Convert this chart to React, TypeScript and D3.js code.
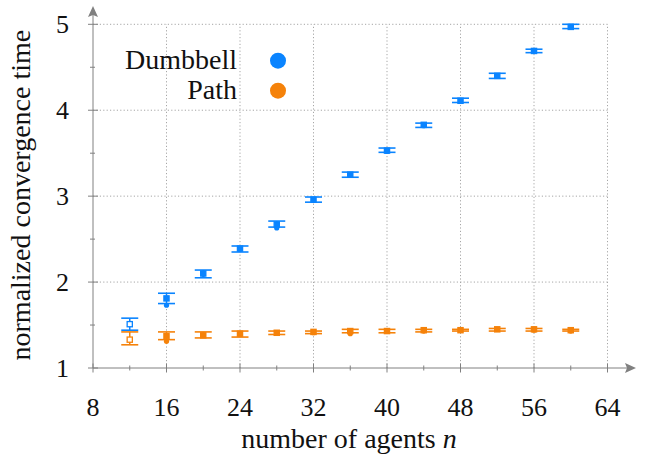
import React from "react";
import * as d3 from "d3";

// number of agents
const agents = [12, 16, 20, 24, 28, 32, 36, 40, 44, 48, 52, 56, 60];

// Dumbbell: mean, median, error bar low/high
const dumbbellMean = [1.51, 1.81, 2.1, 2.39, 2.67, 2.96, 3.25, 3.53, 3.83, 4.11, 4.4, 4.69, 4.97];
const dumbbellMedian = [1.51, 1.73, 2.09, 2.38, 2.63, 2.95, 3.25, 3.52, 3.82, 4.11, 4.4, 4.69, 4.97];
const dumbbellLow = [1.44, 1.75, 2.05, 2.35, 2.64, 2.93, 3.22, 3.51, 3.8, 4.09, 4.37, 4.67, 4.95];
const dumbbellHigh = [1.58, 1.87, 2.14, 2.42, 2.71, 2.99, 3.28, 3.56, 3.85, 4.14, 4.43, 4.71, 5.0];

// Path
const pathMean = [1.33, 1.37, 1.38, 1.4, 1.41, 1.42, 1.43, 1.43, 1.44, 1.44, 1.45, 1.45, 1.44];
const pathMedian = [1.33, 1.31, 1.38, 1.39, 1.41, 1.41, 1.4, 1.43, 1.43, 1.44, 1.45, 1.44, 1.43];
const pathLow = [1.27, 1.33, 1.35, 1.36, 1.39, 1.4, 1.41, 1.41, 1.42, 1.43, 1.43, 1.43, 1.43];
const pathHigh = [1.42, 1.42, 1.42, 1.43, 1.43, 1.43, 1.45, 1.45, 1.45, 1.45, 1.46, 1.46, 1.45];

const xTicks = [8, 16, 24, 32, 40, 48, 56, 64];
const xMinorTicks = [12, 20, 28, 36, 44, 52, 60];
const yTicks = [1, 2, 3, 4, 5];
const yMinorTicks = [1.5, 2.5, 3.5, 4.5];

const BLUE = "#0a84ff";
const ORANGE = "#f5820a";
const AXIS = "#808080";
const GRID = "#a6a6a6";
const FONT = "Liberation Serif";

export default function App() {
  const x = d3.scaleLinear().domain([8, 64]).range([93, 607.5]);
  const y = d3.scaleLinear().domain([1, 5]).range([368, 24.3]);

  const series = [
    { name: "Dumbbell", color: BLUE, mean: dumbbellMean, median: dumbbellMedian, low: dumbbellLow, high: dumbbellHigh },
    { name: "Path", color: ORANGE, mean: pathMean, median: pathMedian, low: pathLow, high: pathHigh },
  ];

  const x0 = x(8);
  const y0 = y(1);

  return (
    <svg width={647} height={459} style={{ position: "absolute", left: 0, top: 0, background: "#fff" }}>
      {/* grid */}
      <g stroke={GRID} strokeWidth={1} strokeDasharray="1.2 2.2">
        {xTicks.slice(1).map((t) => (
          <line key={"gx" + t} x1={x(t)} x2={x(t)} y1={y0} y2={y(5)} />
        ))}
        {yTicks.slice(1).map((t) => (
          <line key={"gy" + t} x1={x0} x2={x(64)} y1={y(t)} y2={y(t)} />
        ))}
      </g>

      {/* axes */}
      <g stroke={AXIS} strokeWidth={1}>
        <line x1={x0} x2={628} y1={y0} y2={y0} />
        <line x1={x0} x2={x0} y1={y0} y2={14} />
        {xTicks.map((t) => (
          <line key={"tx" + t} x1={x(t)} x2={x(t)} y1={y0 - 4.5} y2={y0 + 4.5} />
        ))}
        {xMinorTicks.map((t) => (
          <line key={"mx" + t} x1={x(t)} x2={x(t)} y1={y0 - 2.5} y2={y0 + 2.5} />
        ))}
        {yTicks.map((t) => (
          <line key={"ty" + t} x1={x0 - 5} x2={x0 + 5} y1={y(t)} y2={y(t)} />
        ))}
        {yMinorTicks.map((t) => (
          <line key={"my" + t} x1={x0 - 3} x2={x0 + 2} y1={y(t)} y2={y(t)} />
        ))}
      </g>
      <path d={`M636,${y0} L625,${y0 - 5} L627,${y0} L625,${y0 + 5} Z`} fill={AXIS} />
      <path d={`M${x0},6 L${x0 - 5},17 L${x0},15 L${x0 + 5},17 Z`} fill={AXIS} />

      {/* tick labels */}
      {xTicks.map((t) => (
        <text key={"lx" + t} x={x(t)} y={416} textAnchor="middle" fontSize={26} fontFamily={FONT} fill="#111">
          {t}
        </text>
      ))}
      {yTicks.map((t) => (
        <text key={"ly" + t} x={69} y={y(t) + 8.5} textAnchor="end" fontSize={26} fontFamily={FONT} fill="#111">
          {t}
        </text>
      ))}

      {/* axis titles */}
      <text x={349} y={448} textAnchor="middle" fontSize={28} fontFamily={FONT} fill="#111">
        number of agents <tspan fontStyle="italic">n</tspan>
      </text>
      <text
        transform={`translate(30, ${(y0 + y(5)) / 2 - 1}) rotate(-90)`}
        textAnchor="middle"
        fontSize={28}
        fontFamily={FONT}
        fill="#111"
      >
        normalized convergence time
      </text>

      {/* error bars and markers */}
      {series.map((s) => (
        <g key={s.name}>
          {agents.map((n, i) => {
            const cx = x(n);
            return (
              <g key={n} stroke={s.color}>
                <line x1={cx} x2={cx} y1={y(s.low[i])} y2={y(s.high[i])} strokeWidth={1.5} />
                <line x1={cx - 8.5} x2={cx + 8.5} y1={y(s.low[i])} y2={y(s.low[i])} strokeWidth={1.6} />
                <line x1={cx - 8.5} x2={cx + 8.5} y1={y(s.high[i])} y2={y(s.high[i])} strokeWidth={1.6} />
                <circle cx={cx} cy={y(s.median[i])} r={2.6} fill={s.color} stroke="none" />
                <rect
                  x={cx - 2.6}
                  y={y(s.mean[i]) - 2.6}
                  width={5.2}
                  height={5.2}
                  fill={i === 0 ? "#fff" : s.color}
                  strokeWidth={1.3}
                />
              </g>
            );
          })}
        </g>
      ))}

      {/* legend */}
      {series.map((s, i) => (
        <g key={"lg" + s.name}>
          <text x={237} y={69 + i * 30} textAnchor="end" fontSize={28} fontFamily={FONT} fill="#111">
            {s.name}
          </text>
          <circle cx={278} cy={60.7 + i * 30} r={8} fill={s.color} />
        </g>
      ))}
    </svg>
  );
}
